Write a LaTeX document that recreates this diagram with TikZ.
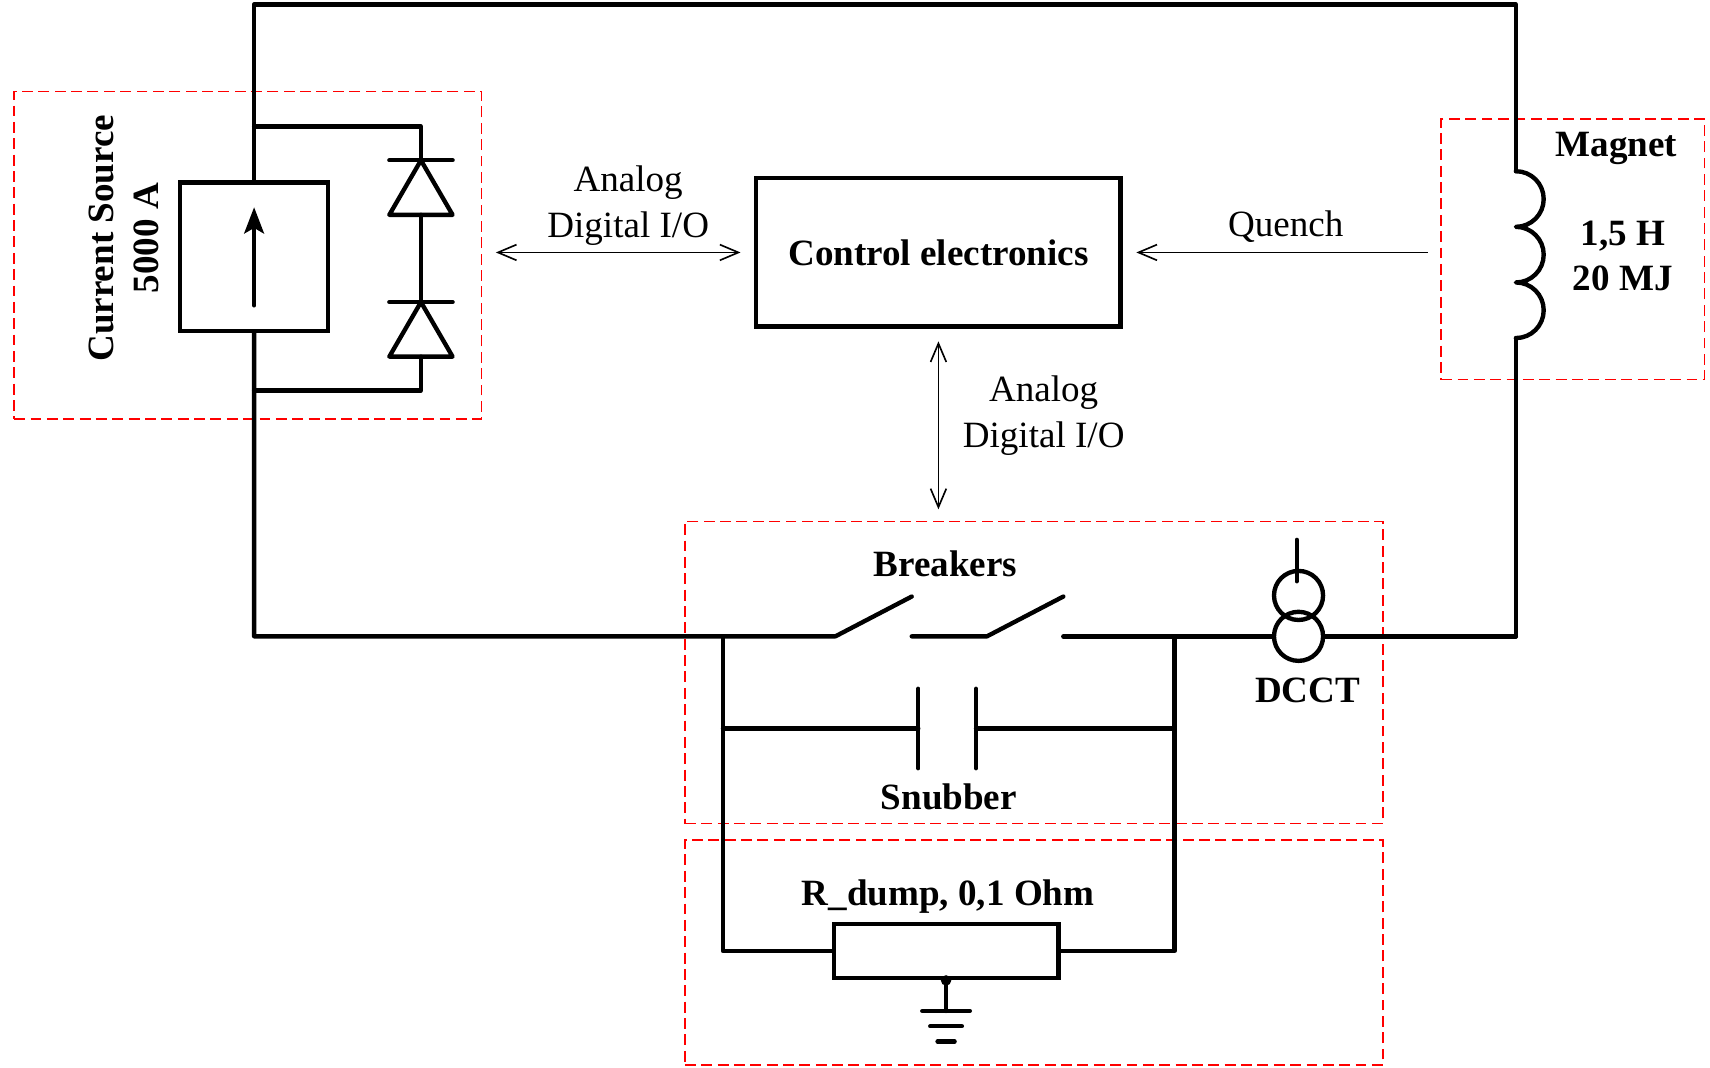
\documentclass[tikz,border=0pt]{standalone}
\usepackage{fontspec}
\setmainfont{Liberation Serif}
\usetikzlibrary{positioning,arrows.meta}

\begin{document}
\begin{tikzpicture}[x=0.5pt, y=-0.5pt,
  every node/.style={inner sep=0pt},
  >={Straight Barb[length=8.5pt,width=7.2pt]}
]
\tikzset{
  fio/.style={line width=2pt, line cap=round, line join=round},
  caixa/.style={draw, line width=2pt},
  grupo/.style={draw=red, line width=0.7pt, dash pattern=on 5pt off 2.5pt},
  seta/.style={line width=0.75pt},
  rotulo/.style={font=\fontsize{17}{20.9}\selectfont},
  negrito/.style={font=\fontsize{17}{20.4}\selectfont\bfseries}
}
\useasboundingbox (0,0) rectangle (1568,978.4);

% grupos tracejados
\node[grupo, minimum width=214.3pt, minimum height=150pt] (grpFonte) at (227.3,234) {};
\node[grupo, minimum width=120.75pt, minimum height=119.5pt] (grpIma) at (1442.25,228.5) {};
\node[grupo, minimum width=320pt, minimum height=138.65pt] (grpDisj) at (948,616.65) {};
\node[grupo, minimum width=320pt, minimum height=103.25pt] (grpDump) at (948,873.25) {};

% fonte de corrente e diodos
\node[caixa, minimum size=68pt] (fonte) at (233,235.5) {};
\draw[fio, -{Stealth[length=12pt,width=9pt,inset=2.5pt]}] ([yshift=-22.25pt]fonte.center) -- ([yshift=22.75pt]fonte.center);
\node[negrito, rotate=90, align=center, anchor=base] (rotFonte) at (145,218.5) {Current Source\\5000 A};

\coordinate (derivSup) at (233,116);
\coordinate (derivInf) at (233,358);
\coordinate (d1) at (386,147);
\coordinate (d1base) at (386,197);
\coordinate (d2) at (386,277);
\coordinate (d2base) at (386,327);
\foreach \yd in {147,277} {
  \draw[fio] (357,\yd) -- (415,\yd);
  \draw[fio] (386,\yd) -- (357,\yd+50) -- (415,\yd+50) -- cycle;
}
\draw[fio] (derivSup) -| (d1);
\draw[fio] (d1base) -- (d2);
\draw[fio] (d2base) |- (derivInf);

% circuito principal
\coordinate (nTopoEsq) at (233,4);
\coordinate (nTopoDir) at (1390,4);
\coordinate (bobIni) at (1390,157);
\coordinate (bobFim) at (1390,310);
\coordinate (nBaseDir) at (1390,583.5);
\coordinate (nBaseEsq) at (233,583.5);
\draw[fio] (fonte.north) -- (nTopoEsq) -- (nTopoDir) -- (bobIni);
\draw[fio] (bobIni) arc(-90:90:25.5) arc(-90:90:25.5) arc(-90:90:25.5);
\draw[fio] (bobFim) -- (nBaseDir);
\node[negrito, anchor=base] (rotIma) at (1482,143.7) {Magnet};
\node[negrito, anchor=base, align=center] (rotIndut) at (1488,266) {1,5 H\\20 MJ};

% disjuntores
\coordinate (disj1a) at (766,583.5);
\coordinate (disj1b) at (836,547);
\coordinate (disj2ini) at (836,583.5);
\coordinate (disj2a) at (905,583.5);
\coordinate (disj2b) at (975,547);
\coordinate (disj3) at (975,583.5);
\draw[fio] (fonte.south) -- (nBaseEsq) -- (disj1a) -- (disj1b);
\draw[fio] (disj2ini) -- (disj2a) -- (disj2b);
\node[negrito, anchor=base] (rotDisj) at (867,528.8) {Breakers};

% DCCT
\node[circle, caixa, minimum size=22.5pt] (dcctA) at (1190.7,546) {};
\node[circle, caixa, minimum size=22.5pt] (dcctB) at (1190.7,583.5) {};
\coordinate (dcctTopo) at (1189,495);
\draw[fio] (dcctTopo) -- (1189,533);
\draw[fio] (disj3) -- (dcctB.west);
\draw[fio] (dcctB.east) -- (nBaseDir);
\node[negrito, anchor=base] (rotDcct) at (1199,644) {DCCT};

% snubber e resistor de descarga
\coordinate (ramoE) at (663,583.5);
\coordinate (ramoD) at (1077,583.5);
\coordinate (capE) at (842,668);
\coordinate (capD) at (895,668);
\node[caixa, minimum width=103pt, minimum height=25pt] (resist) at (867.5,872) {};
\draw[fio] (ramoE) |- (resist.west);
\draw[fio] (ramoD) |- (resist.east);
\draw[fio] (ramoE |- capE) -- (capE);
\draw[fio] (capD) -- (ramoD |- capD);
\draw[fio] ([yshift=18.2pt]capE) -- ([yshift=-18.2pt]capE);
\draw[fio] ([yshift=18.2pt]capD) -- ([yshift=-18.2pt]capD);
\node[negrito, anchor=base] (rotSnub) at (870,742.7) {Snubber};
\node[negrito, anchor=base] (rotDump) at (869.4,830.5) {R\_dump, 0,1 Ohm};

% terra
\coordinate (terra) at (867.5,927);
\fill (resist.south) circle (2.4pt);
\draw[fio] (resist.south) -- (terra);
\draw[fio] ([xshift=-10.9pt]terra) -- ([xshift=10.9pt]terra);
\draw[fio] ([xshift=-7.25pt,yshift=-7pt]terra) -- ([xshift=7.25pt,yshift=-7pt]terra);
\draw[fio] ([xshift=-3.9pt,yshift=-14pt]terra) -- ([xshift=3.9pt,yshift=-14pt]terra);

% controle e sinais
\node[caixa, negrito, minimum width=167pt, minimum height=68pt] (controle) at (860.5,231.5) {Control electronics};
\draw[seta, <->, shorten <=6.2pt, shorten >=6.25pt] (grpFonte.east |- controle.west) -- (controle.west);
\draw[seta, ->, shorten <=5.75pt, shorten >=6.25pt] (grpIma.west |- controle.east) -- (controle.east);
\draw[seta, <->, shorten <=5.75pt, shorten >=5.15pt] (controle.south) -- (controle.south |- grpDisj.north);
\node[rotulo, anchor=base, align=center] (rotES1) at (576,217.6) {Analog\\Digital I/O};
\node[rotulo, anchor=base, align=center] (rotES2) at (957,410) {Analog\\Digital I/O};
\node[rotulo, anchor=base] (rotQuench) at (1179,217) {Quench};
\end{tikzpicture}
\end{document}
